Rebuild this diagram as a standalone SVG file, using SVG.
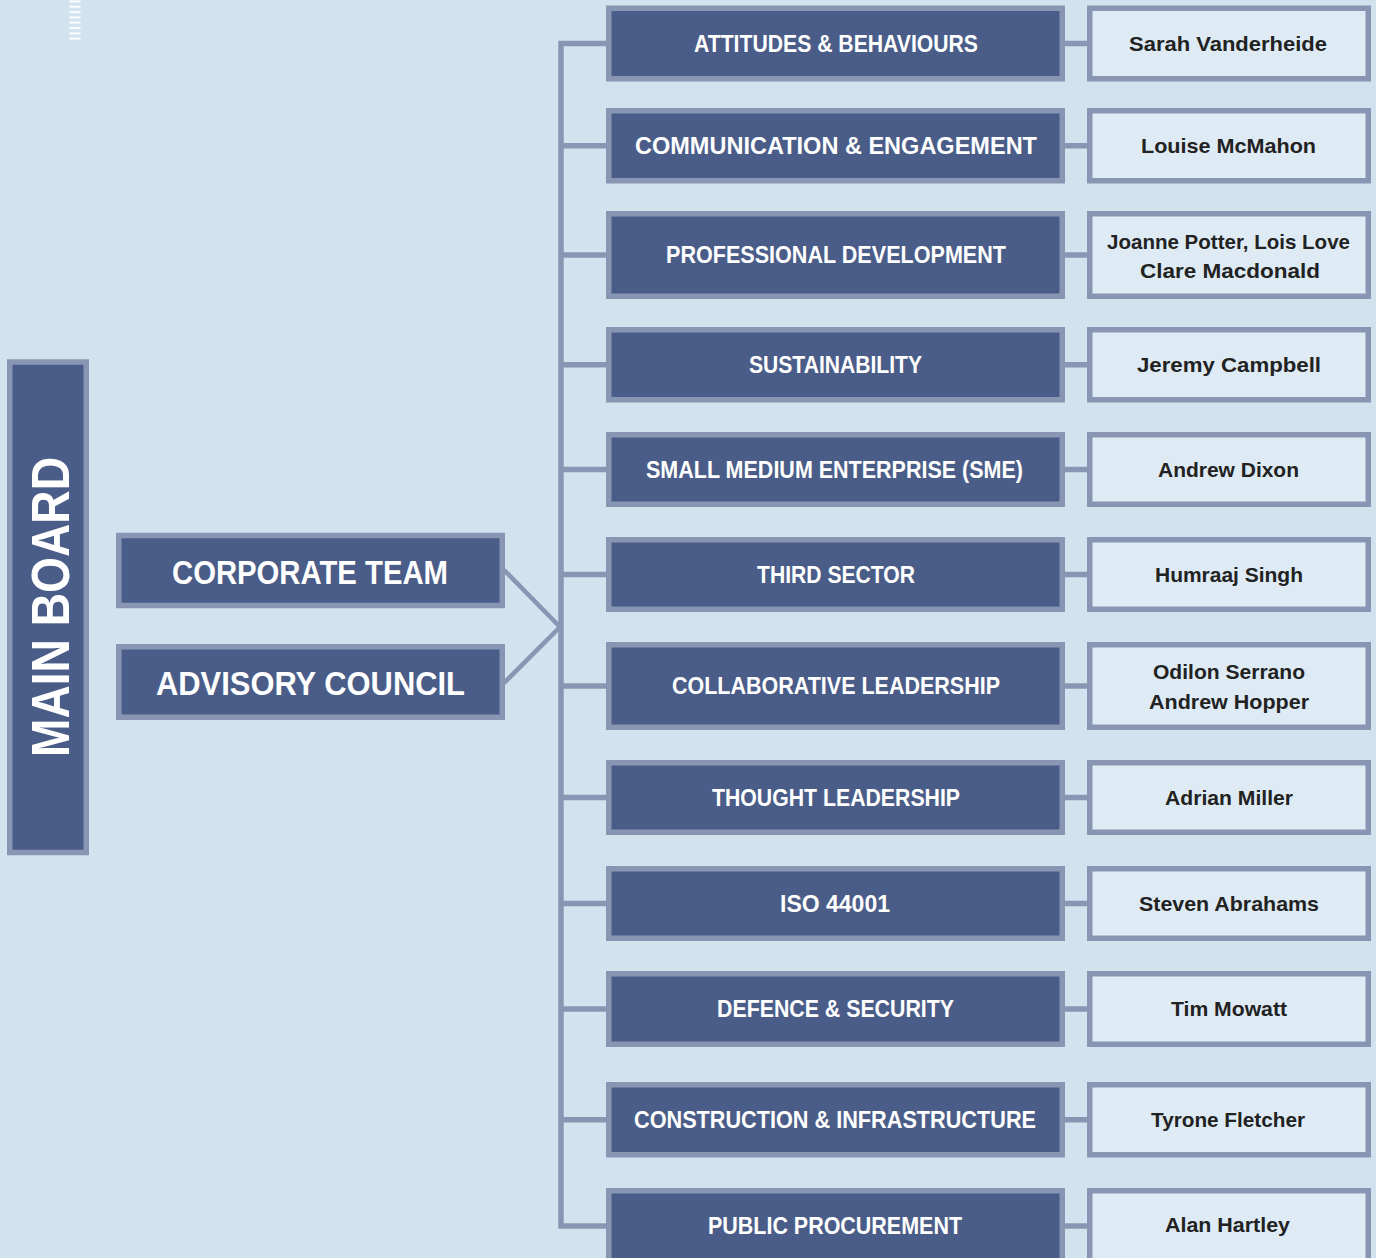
<svg xmlns="http://www.w3.org/2000/svg" width="1376" height="1258" viewBox="0 0 1376 1258">
<style>
.bg{fill:#d1e3ef}
.dk{fill:#4a5d88;stroke:#8996b3;stroke-width:5.5}
.lt{fill:#deebf5;stroke:#8996b3;stroke-width:5.5}
.con{fill:none;stroke:#8996b3;stroke-width:5.5;stroke-linejoin:miter}
.diag{fill:none;stroke:#8996b3;stroke-width:4.5}
.tw{fill:#ffffff;font-family:"Liberation Sans",Arial,sans-serif;font-weight:700;text-anchor:middle}
.t{font-size:23px}
.nm{fill:#222222;font-family:"Liberation Sans",Arial,sans-serif;font-weight:700;font-size:21px;text-anchor:middle}
.dash{fill:#ffffff;stroke:#e4eef6;stroke-width:0.5}
</style>
<rect class="bg" x="0" y="0" width="1376" height="1258"/>
<g id="marks">
<rect class="dash" x="69.5" y="0.5" width="11" height="2"/>
<rect class="dash" x="69.5" y="5.8" width="11" height="2"/>
<rect class="dash" x="69.5" y="11.1" width="11" height="2"/>
<rect class="dash" x="69.5" y="16.4" width="11" height="2"/>
<rect class="dash" x="69.5" y="21.7" width="11" height="2"/>
<rect class="dash" x="69.5" y="27" width="11" height="2"/>
<rect class="dash" x="69.5" y="32.3" width="11" height="2"/>
<rect class="dash" x="69.5" y="37.6" width="11" height="2"/>
</g>
<g id="connectors">
<path class="con" d="M606,43.5 H561 V1226 H606"/>
<path class="con" d="M561,145.75 H606 M561,255 H606 M561,364.75 H606 M561,469.5 H606 M561,574.5 H606 M561,686 H606 M561,797.5 H606 M561,903.5 H606 M561,1009 H606 M561,1119.75 H606"/>
<path class="con" d="M1065,43.5 H1087 M1065,145.75 H1087 M1065,255 H1087 M1065,364.75 H1087 M1065,469.5 H1087 M1065,574.5 H1087 M1065,686 H1087 M1065,797.5 H1087 M1065,903.5 H1087 M1065,1009 H1087 M1065,1119.75 H1087 M1065,1226 H1087"/>
<path class="diag" d="M504,570 L560,627 L504,683"/>
</g>
<g id="main-board">
<rect class="dk" x="9.75" y="362" width="76.5" height="490.5"/>
<text class="tw" transform="translate(69,607) rotate(-90)" font-size="54" textLength="300" lengthAdjust="spacingAndGlyphs">MAIN BOARD</text>
</g>
<g id="corporate-team">
<rect class="dk" x="118.75" y="535.5" width="383.5" height="70"/>
<text class="tw" x="310" y="583.5" font-size="33" textLength="276" lengthAdjust="spacingAndGlyphs">CORPORATE TEAM</text>
</g>
<g id="advisory-council">
<rect class="dk" x="118.75" y="646.75" width="383.5" height="70.5"/>
<text class="tw" x="310.5" y="694.5" font-size="33" textLength="309" lengthAdjust="spacingAndGlyphs">ADVISORY COUNCIL</text>
</g>
<g id="n1">
<rect class="dk" x="608.75" y="8.25" width="453.5" height="70.5"/>
<text class="tw t" x="836" y="52" textLength="284" lengthAdjust="spacingAndGlyphs">ATTITUDES &amp; BEHAVIOURS</text>
</g>
<g id="p1">
<rect class="lt" x="1089.75" y="8.25" width="278.5" height="70.5"/>
<text class="nm" x="1228" y="51" textLength="198" lengthAdjust="spacingAndGlyphs">Sarah Vanderheide</text>
</g>
<g id="n2">
<rect class="dk" x="608.75" y="110.75" width="453.5" height="70"/>
<text class="tw t" x="836" y="154.3" textLength="402" lengthAdjust="spacingAndGlyphs">COMMUNICATION &amp; ENGAGEMENT</text>
</g>
<g id="p2">
<rect class="lt" x="1089.75" y="110.75" width="278.5" height="70"/>
<text class="nm" x="1228.5" y="153.3" textLength="175" lengthAdjust="spacingAndGlyphs">Louise McMahon</text>
</g>
<g id="n3">
<rect class="dk" x="608.75" y="213.75" width="453.5" height="82.5"/>
<text class="tw t" x="836" y="263.3" textLength="340" lengthAdjust="spacingAndGlyphs">PROFESSIONAL DEVELOPMENT</text>
</g>
<g id="p3">
<rect class="lt" x="1089.75" y="213.75" width="278.5" height="82.5"/>
<text class="nm" x="1228.5" y="249.3" textLength="243" lengthAdjust="spacingAndGlyphs">Joanne Potter, Lois Love</text>
<text class="nm" x="1230" y="278.3" textLength="180" lengthAdjust="spacingAndGlyphs">Clare Macdonald</text>
</g>
<g id="n4">
<rect class="dk" x="608.75" y="329.75" width="453.5" height="70"/>
<text class="tw t" x="835.5" y="373.3" textLength="173" lengthAdjust="spacingAndGlyphs">SUSTAINABILITY</text>
</g>
<g id="p4">
<rect class="lt" x="1089.75" y="329.75" width="278.5" height="70"/>
<text class="nm" x="1229" y="372.3" textLength="184" lengthAdjust="spacingAndGlyphs">Jeremy Campbell</text>
</g>
<g id="n5">
<rect class="dk" x="608.75" y="434.75" width="453.5" height="69.5"/>
<text class="tw t" x="834.5" y="478.3" textLength="377" lengthAdjust="spacingAndGlyphs">SMALL MEDIUM ENTERPRISE (SME)</text>
</g>
<g id="p5">
<rect class="lt" x="1089.75" y="434.75" width="278.5" height="69.5"/>
<text class="nm" x="1228.5" y="477" textLength="141" lengthAdjust="spacingAndGlyphs">Andrew Dixon</text>
</g>
<g id="n6">
<rect class="dk" x="608.75" y="539.75" width="453.5" height="69.5"/>
<text class="tw t" x="836" y="583.3" textLength="158" lengthAdjust="spacingAndGlyphs">THIRD SECTOR</text>
</g>
<g id="p6">
<rect class="lt" x="1089.75" y="539.75" width="278.5" height="69.5"/>
<text class="nm" x="1229" y="582" textLength="148" lengthAdjust="spacingAndGlyphs">Humraaj Singh</text>
</g>
<g id="n7">
<rect class="dk" x="608.75" y="644.75" width="453.5" height="82.5"/>
<text class="tw t" x="836" y="694.3" textLength="328" lengthAdjust="spacingAndGlyphs">COLLABORATIVE LEADERSHIP</text>
</g>
<g id="p7">
<rect class="lt" x="1089.75" y="644.75" width="278.5" height="82.5"/>
<text class="nm" x="1229" y="678.5" textLength="152" lengthAdjust="spacingAndGlyphs">Odilon Serrano</text>
<text class="nm" x="1229" y="708.5" textLength="160" lengthAdjust="spacingAndGlyphs">Andrew Hopper</text>
</g>
<g id="n8">
<rect class="dk" x="608.75" y="762.75" width="453.5" height="69.5"/>
<text class="tw t" x="836" y="806" textLength="248" lengthAdjust="spacingAndGlyphs">THOUGHT LEADERSHIP</text>
</g>
<g id="p8">
<rect class="lt" x="1089.75" y="762.75" width="278.5" height="69.5"/>
<text class="nm" x="1229" y="805" textLength="128" lengthAdjust="spacingAndGlyphs">Adrian Miller</text>
</g>
<g id="n9">
<rect class="dk" x="608.75" y="868.75" width="453.5" height="69.5"/>
<text class="tw t" x="835" y="912" textLength="110" lengthAdjust="spacingAndGlyphs">ISO 44001</text>
</g>
<g id="p9">
<rect class="lt" x="1089.75" y="868.75" width="278.5" height="69.5"/>
<text class="nm" x="1229" y="911" textLength="180" lengthAdjust="spacingAndGlyphs">Steven Abrahams</text>
</g>
<g id="n10">
<rect class="dk" x="608.75" y="973.75" width="453.5" height="70.5"/>
<text class="tw t" x="835.5" y="1017.3" textLength="237" lengthAdjust="spacingAndGlyphs">DEFENCE &amp; SECURITY</text>
</g>
<g id="p10">
<rect class="lt" x="1089.75" y="973.75" width="278.5" height="70.5"/>
<text class="nm" x="1229" y="1016.3" textLength="116" lengthAdjust="spacingAndGlyphs">Tim Mowatt</text>
</g>
<g id="n11">
<rect class="dk" x="608.75" y="1084.75" width="453.5" height="70"/>
<text class="tw t" x="835" y="1128" textLength="402" lengthAdjust="spacingAndGlyphs">CONSTRUCTION &amp; INFRASTRUCTURE</text>
</g>
<g id="p11">
<rect class="lt" x="1089.75" y="1084.75" width="278.5" height="70"/>
<text class="nm" x="1228" y="1127" textLength="154" lengthAdjust="spacingAndGlyphs">Tyrone Fletcher</text>
</g>
<g id="n12">
<rect class="dk" x="608.75" y="1190.75" width="453.5" height="80"/>
<text class="tw t" x="835" y="1234.3" textLength="254" lengthAdjust="spacingAndGlyphs">PUBLIC PROCUREMENT</text>
</g>
<g id="p12">
<rect class="lt" x="1089.75" y="1190.75" width="278.5" height="80"/>
<text class="nm" x="1227.5" y="1232.3" textLength="125" lengthAdjust="spacingAndGlyphs">Alan Hartley</text>
</g>
</svg>
